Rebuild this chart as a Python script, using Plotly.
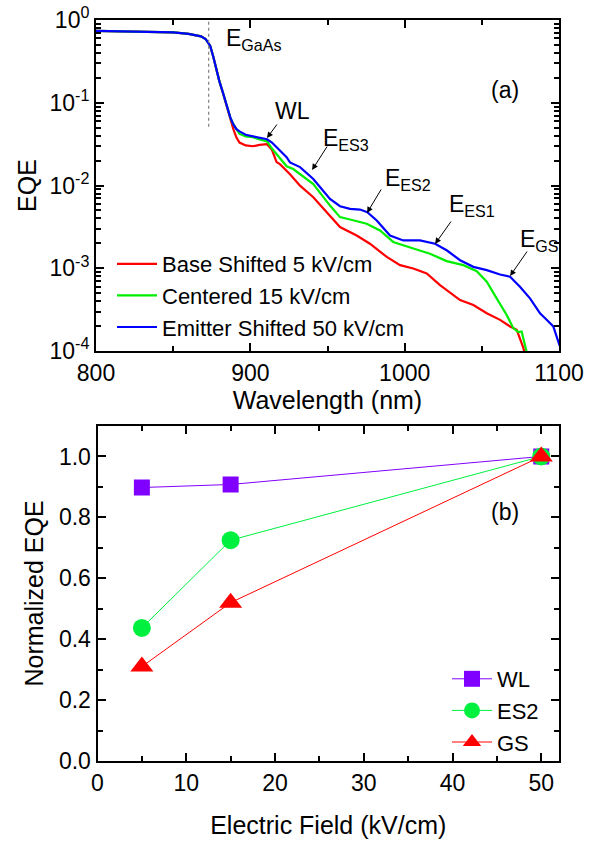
import plotly.graph_objects as go

# ---------------- Panel (a) data ----------------
wl_red = [800, 820, 840, 850, 860, 865, 868, 871, 874, 876, 878, 880, 882, 885, 887,
          889, 891, 893, 897, 901.7, 906, 910.8, 914, 917, 919.2, 925.7, 932.2, 940.8,
          949.5, 958.1, 968.9, 977.5, 988.4, 997.0, 1005.6, 1014.3, 1022.9, 1031.5,
          1035.9, 1044.5, 1053.2, 1061.8, 1068.3, 1072.6, 1074.7, 1076.9, 1078.0]
eqe_red = [0.738, 0.727, 0.718, 0.708, 0.679, 0.651, 0.635, 0.59, 0.487, 0.359, 0.251, 0.180, 0.136, 0.087, 0.063,
           0.048, 0.038, 0.033, 0.0305, 0.0298, 0.031, 0.0315, 0.027, 0.0192, 0.0181, 0.0137, 0.00995, 0.00722,
           0.00476, 0.00315, 0.00249, 0.00198, 0.00137, 0.00109, 0.000993, 0.000865, 0.000625, 0.000475,
           0.000413, 0.000360, 0.000286, 0.000238, 0.000198, 0.000180, 0.000143, 0.000109, 0.00009]

wl_green = [800, 820, 840, 850, 860, 865, 868, 871, 874, 876, 878, 880, 882, 885, 887,
            889, 891, 893, 897, 901.7, 906, 910.8, 914, 917, 919.2, 923.5, 927.8, 932.2, 940.8,
            951.6, 958.1, 964.6, 975.4, 984.0, 992.6, 1005.6, 1016.4, 1027.2, 1038.0, 1046.7,
            1053.2, 1059.6, 1066.1, 1070.4, 1073.6, 1075.8, 1076.9, 1078.6, 1079.5]
eqe_green = [0.738, 0.727, 0.718, 0.708, 0.679, 0.651, 0.635, 0.59, 0.487, 0.359, 0.251, 0.180, 0.137, 0.090, 0.0665,
             0.0548, 0.048, 0.042, 0.0393, 0.0383, 0.036, 0.0342, 0.028, 0.0239, 0.0208, 0.0171, 0.0158, 0.0137, 0.0104,
             0.00572, 0.00415, 0.00388, 0.00345, 0.00286, 0.00208, 0.00173, 0.00150, 0.00122, 0.00109, 0.000922,
             0.000687, 0.000433, 0.000273, 0.000189, 0.000169, 0.000172, 0.000137, 0.000105, 0.00009]

wl_blue = [800, 820, 840, 850, 860, 865, 868, 871, 874, 876, 878, 880, 882, 885, 887,
           889, 891, 893, 897, 901.7, 906, 910.8, 914, 917, 919.2, 923.5, 925.7, 932.2, 940.8,
           951.6, 958.1, 964.6, 971.1, 975.8, 981.9, 990.5, 999.1, 1009.9, 1019.7, 1027.2, 1035.9,
           1044.5, 1053.2, 1061.8, 1068.3, 1074.7, 1081.2, 1087.7, 1092.0, 1096.3, 1099.5, 1100.6]
eqe_blue = [0.738, 0.727, 0.718, 0.708, 0.679, 0.651, 0.635, 0.59, 0.487, 0.359, 0.251, 0.180, 0.137, 0.090, 0.0665,
            0.0548, 0.048, 0.0451, 0.041, 0.0393, 0.0375, 0.0362, 0.033, 0.029, 0.026, 0.022, 0.019, 0.0167, 0.0120,
            0.00689, 0.00562, 0.00522, 0.00512, 0.00476, 0.00378, 0.00249, 0.00217, 0.00217, 0.00198, 0.00165, 0.00125,
            0.00104, 0.000948, 0.000841, 0.000789, 0.000598, 0.000433, 0.000286, 0.000238, 0.000198, 0.000131, 0.000114]

series_a_names = ["Base Shifted 5 kV/cm", "Centered 15 kV/cm", "Emitter Shifted 50 kV/cm"]
series_a_colors = ["#ff0000", "#00ee00", "#0000ff"]

gaas_edge_x = [873, 873]
gaas_edge_y = [0.95, 0.048]

x_ticks_a = [800, 900, 1000, 1100]
y_ticks_a = [1e-4, 1e-3, 1e-2, 1e-1, 1e0]
y_ticktext_a = ["10<sup>-4</sup>", "10<sup>-3</sup>", "10<sup>-2</sup>", "10<sup>-1</sup>", "10<sup>0</sup>"]

# ---------------- Panel (b) data ----------------
field = [5, 15, 50]
norm_wl = [0.898, 0.908, 1.0]
norm_es2 = [0.437, 0.725, 1.0]
norm_gs = [0.31, 0.52, 1.0]

FONT = "Liberation Sans, Arial, sans-serif"
fig = go.Figure()

for xs, ys, name, col in zip([wl_red, wl_green, wl_blue], [eqe_red, eqe_green, eqe_blue],
                             series_a_names, series_a_colors):
    fig.add_trace(go.Scatter(x=xs, y=ys, mode="lines", name=name,
                             line=dict(color=col, width=2.2), xaxis="x", yaxis="y",
                             legend="legend"))

fig.add_trace(go.Scatter(x=gaas_edge_x, y=gaas_edge_y, mode="lines", showlegend=False,
                         line=dict(color="#888888", width=1.3, dash="dot"), xaxis="x", yaxis="y"))

b_series = [("WL", norm_wl, "#8000ff", "square", 16),
            ("ES2", norm_es2, "#00f040", "circle", 18),
            ("GS", norm_gs, "#ff0000", "triangle-up", 20)]
for name, ys, col, sym, sz in b_series:
    fig.add_trace(go.Scatter(x=field, y=ys, mode="lines+markers", name=name,
                             line=dict(color=col, width=1),
                             marker=dict(symbol=sym, size=sz, color=col),
                             xaxis="x2", yaxis="y2", legend="legend2"))

W, H = 589, 841
ML, MR, MT, MB = 96, 30, 20, 80
IW, IH = W - ML - MR, H - MT - MB
def px(x):
    return (x - ML) / IW
def py(y):
    return 1 - (y - MT) / IH

axis_common = dict(showline=True, linecolor="black", linewidth=2, mirror="allticks",
                   ticks="inside", ticklen=8, tickwidth=2, tickcolor="black",
                   showgrid=False, zeroline=False, automargin=False,
                   tickfont=dict(family=FONT, size=23, color="black"))

minor_log = [k * 10 ** e for e in range(-4, 0) for k in range(2, 10)]

fig.update_layout(
    width=W, height=H, autosize=False,
    margin=dict(l=ML, r=MR, t=MT, b=MB),
    paper_bgcolor="white", plot_bgcolor="white",
    font=dict(family=FONT, size=23, color="black"),
    xaxis=dict(domain=[0, 1], range=[800, 1100], anchor="y",
               tickvals=x_ticks_a,
               minor=dict(ticks="inside", ticklen=5, tickwidth=2, tickcolor="black", dtick=50),
               title=dict(text="Wavelength (nm)", font=dict(family=FONT, size=25), standoff=4),
               **axis_common),
    yaxis=dict(domain=[py(351), 1], type="log", range=[-4, 0], anchor="x",
               tickvals=y_ticks_a, ticktext=y_ticktext_a,
               minor=dict(ticks="inside", ticklen=5, tickwidth=2, tickcolor="black", tickvals=minor_log),
               title=dict(text="EQE", font=dict(family=FONT, size=25), standoff=6),
               **axis_common),
    xaxis2=dict(domain=[px(97.5), 1], range=[0, 52], anchor="y2",
                dtick=10, tick0=0,
                minor=dict(ticks="inside", ticklen=5, tickwidth=2, tickcolor="black", dtick=5),
                title=dict(text="Electric Field (kV/cm)", font=dict(family=FONT, size=25), standoff=22),
                **axis_common),
    yaxis2=dict(domain=[0, py(426)], range=[0, 1.1], anchor="x2",
                dtick=0.2, tick0=0, tickformat=".1f",
                minor=dict(ticks="inside", ticklen=5, tickwidth=2, tickcolor="black", dtick=0.1),
                title=dict(text="Normalized EQE", font=dict(family=FONT, size=25), standoff=8),
                **axis_common),
    legend=dict(x=px(112), y=py(243), xanchor="left", yanchor="top",
                bgcolor="rgba(0,0,0,0)", font=dict(family=FONT, size=22),
                tracegroupgap=0, itemwidth=40),
    legend2=dict(x=px(447), y=py(658), xanchor="left", yanchor="top",
                 bgcolor="rgba(0,0,0,0)", font=dict(family=FONT, size=22),
                 tracegroupgap=0, itemwidth=40),
)

# text labels (a)
labels_a = [
    ("E<sub>GaAs</sub>", 883.0, -0.23, "left"),
    ("WL", 927, -1.10, "center"),
    ("E<sub>ES3</sub>", 945.8, -1.44, "left"),
    ("E<sub>ES2</sub>", 986.0, -1.93, "left"),
    ("E<sub>ES1</sub>", 1027.4, -2.24, "left"),
    ("E<sub>GS</sub>", 1073.4, -2.66, "left"),
    ("(a)", 1065, -0.846, "center"),
]
for txt, x, y, xa in labels_a:
    fig.add_annotation(text=txt, x=x, y=y, xref="x", yref="y", xanchor=xa, yanchor="middle",
                       showarrow=False, font=dict(family=FONT, size=23, color="black"))

# arrows (a): tip positions on the curves (log10 y for log axis)
arrows_a = [(910.8, -1.426, 11, -15), (940.0, -1.813, 16, -25), (975.6, -2.332, 15, -25),
            (1019.7, -2.707, 17, -24), (1068.3, -3.094, 18, -26)]
for x, y, ax, ay in arrows_a:
    fig.add_annotation(text="", x=x, y=y, xref="x", yref="y", ax=ax, ay=ay,
                       showarrow=True, arrowhead=2, arrowsize=1.2, arrowwidth=1, arrowcolor="black")

fig.add_annotation(text="(b)", x=45.9, y=0.816, xref="x2", yref="y2", showarrow=False,
                   font=dict(family=FONT, size=23, color="black"))

fig.write_html("out.html", config={"displayModeBar": False},
               post_script="document.body.style.margin='0px';")
